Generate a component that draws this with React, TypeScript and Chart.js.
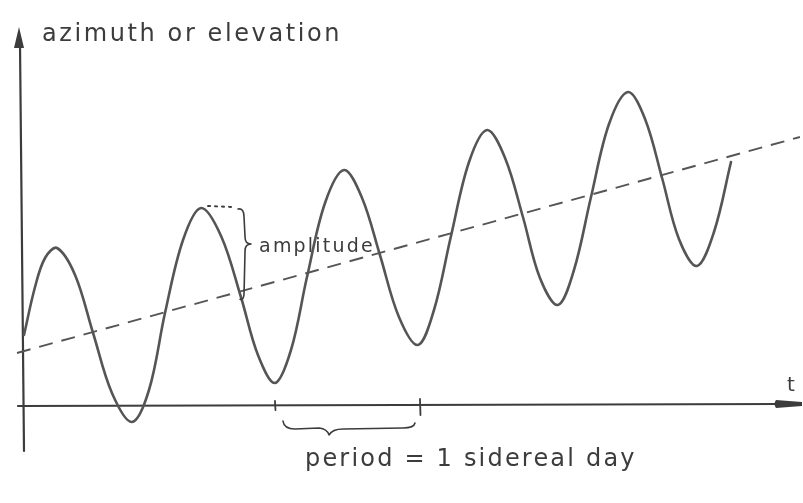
import { useEffect, useRef } from "react";
import { Chart, registerables } from "chart.js";

Chart.register(...registerables);

// Time in sidereal days, angle in degrees above the baseline.
const curveDays = [
  0.014, 0.091, 0.161, 0.245, 0.371, 0.497, 0.629, 0.769, 0.888, 1.0, 1.126, 1.252, 1.392, 1.531,
  1.65, 1.769, 1.881, 1.993, 2.119, 2.252, 2.378, 2.503, 2.636, 2.769, 2.881, 3.0, 3.126, 3.252,
  3.378, 3.503, 3.622, 3.748, 3.86, 3.979, 4.105, 4.238, 4.357, 4.476, 4.594, 4.72, 4.839, 4.958,
];
const curveAngle = [
  17.5, 29.5, 36.75, 39.25, 32.5, 18, 3, -4.25, 3.75, 23, 41.25, 49.25, 42.25, 27,
  12.5, 5.5, 13.75, 32, 50.5, 58.75, 51.75, 37.5, 22, 15, 23.75, 42.25, 60.75, 68.75,
  61.75, 47, 31.75, 25, 33.75, 52, 70.25, 78.25, 71.5, 56.75, 41.5, 34.75, 43.25, 60.75,
];

// Slow drift of the mean value.
const trendDays = [-0.035, 5.44];
const trendAngle = [13, 67];

// One full period marked on the time axis.
const periodTicks = [1.769, 2.783];

// Index of the crest used to show the amplitude.
const amplitudeCrest = 11;

const yLabel = "azimuth or elevation";
const xLabel = "t";
const amplitudeLabel = "amplitude";
const periodLabel = "period = 1 sidereal day";

const INK = "#3c3c3c";
const PEN = "#555555";
const FONT = '"DejaVu Sans", sans-serif';

const trendAt = (d: number) =>
  trendAngle[0] + ((trendAngle[1] - trendAngle[0]) * (d - trendDays[0])) / (trendDays[1] - trendDays[0]);

const sketchPlugin = {
  id: "sketch",
  beforeDatasetsDraw(chart: any) {
    const { ctx } = chart;
    const x = chart.scales.x;
    const y = chart.scales.y;
    const ax = x.getPixelForValue(0);
    const ay = y.getPixelForValue(0);
    const right = chart.chartArea.right;
    ctx.save();
    ctx.strokeStyle = INK;
    ctx.fillStyle = INK;
    ctx.lineWidth = 2.2;
    ctx.lineCap = "round";

    // vertical axis with arrow
    ctx.beginPath();
    ctx.moveTo(ax + 2, ay + 46);
    ctx.lineTo(ax - 2, 44);
    ctx.stroke();
    ctx.beginPath();
    ctx.moveTo(ax - 3, 27);
    ctx.lineTo(ax + 2, 48);
    ctx.lineTo(ax - 8, 48);
    ctx.closePath();
    ctx.fill();

    // horizontal axis with arrow
    ctx.beginPath();
    ctx.moveTo(ax - 4, ay + 1);
    ctx.lineTo(right - 20, ay - 1);
    ctx.stroke();
    ctx.beginPath();
    ctx.moveTo(right - 27, ay - 5);
    ctx.lineTo(right - 1, ay - 3);
    ctx.lineTo(right - 1, ay + 1);
    ctx.lineTo(right - 27, ay + 3);
    ctx.quadraticCurveTo(right - 30, ay - 1, right - 27, ay - 5);
    ctx.fill();

    // period ticks
    ctx.lineWidth = 1.8;
    const tk = [
      [-4, 5],
      [-6, 10],
    ];
    periodTicks.forEach((d, i) => {
      const px = x.getPixelForValue(d);
      ctx.beginPath();
      ctx.moveTo(px, ay + tk[i][0]);
      ctx.lineTo(px + 0.5, ay + tk[i][1]);
      ctx.stroke();
    });
    ctx.restore();
  },
  afterDatasetsDraw(chart: any) {
    const { ctx } = chart;
    const x = chart.scales.x;
    const y = chart.scales.y;
    const ax = x.getPixelForValue(0);
    const ay = y.getPixelForValue(0);
    const right = chart.chartArea.right;
    ctx.save();
    ctx.strokeStyle = INK;
    ctx.fillStyle = INK;
    ctx.lineCap = "round";
    ctx.lineJoin = "round";

    // amplitude: dotted lead from the crest and a curly brace down to the mean line
    const cd = curveDays[amplitudeCrest];
    const cx = x.getPixelForValue(cd);
    const top = y.getPixelForValue(curveAngle[amplitudeCrest]);
    const bot = y.getPixelForValue(trendAt(cd));
    const bx = cx + 43;
    const mid = top + 36;
    ctx.lineWidth = 2;
    ctx.setLineDash([2, 5]);
    ctx.beginPath();
    ctx.moveTo(cx + 7, top - 2);
    ctx.lineTo(bx - 12, top - 1);
    ctx.stroke();
    ctx.setLineDash([]);
    ctx.lineWidth = 1.6;
    ctx.beginPath();
    ctx.moveTo(bx - 6, top + 1);
    ctx.quadraticCurveTo(bx, top, bx, top + 9);
    ctx.lineTo(bx + 1, mid - 7);
    ctx.quadraticCurveTo(bx + 1, mid, bx + 7, mid);
    ctx.quadraticCurveTo(bx + 1, mid, bx + 1, mid + 7);
    ctx.lineTo(bx, bot - 9);
    ctx.quadraticCurveTo(bx, bot - 2, bx - 4, bot - 3);
    ctx.stroke();

    // period: curly brace under the axis between the ticks
    const l = x.getPixelForValue(periodTicks[0]) + 8;
    const r = x.getPixelForValue(periodTicks[1]) - 5;
    const by = ay + 24;
    const pk = l + (r - l) * 0.35;
    ctx.beginPath();
    ctx.moveTo(l, by - 8);
    ctx.quadraticCurveTo(l + 1, by, l + 12, by);
    ctx.lineTo(pk - 10, by - 1);
    ctx.quadraticCurveTo(pk - 2, by, pk, by + 6);
    ctx.quadraticCurveTo(pk + 3, by, pk + 14, by);
    ctx.lineTo(r - 12, by - 1);
    ctx.quadraticCurveTo(r - 1, by - 1, r, by - 6);
    ctx.stroke();

    // labels
    ctx.textBaseline = "alphabetic";
    ctx.textAlign = "left";
    ctx.font = `24px ${FONT}`;
    (ctx as any).letterSpacing = "2.6px";
    ctx.fillText(yLabel, ax + 20, 41);

    (ctx as any).letterSpacing = "2.2px";
    ctx.fillText(periodLabel, l + 22, ay + 61);

    ctx.font = `19px ${FONT}`;
    (ctx as any).letterSpacing = "2.2px";
    ctx.fillText(amplitudeLabel, bx + 15, top + 44);

    ctx.font = `20px ${FONT}`;
    (ctx as any).letterSpacing = "0px";
    ctx.fillText(xLabel, right - 16, ay - 14);
    ctx.restore();
  },
};

export default function App() {
  const ref = useRef<HTMLCanvasElement | null>(null);

  useEffect(() => {
    document.body.style.margin = "0";
    const canvas = ref.current;
    if (!canvas) return;
    const chart = new Chart(canvas, {
      type: "line",
      data: {
        datasets: [
          {
            data: curveDays.map((d, i) => ({ x: d, y: curveAngle[i] })),
            borderColor: PEN,
            borderWidth: 2.6,
            pointRadius: 0,
            tension: 0.35,
            borderCapStyle: "round",
            borderJoinStyle: "round",
            fill: false,
          },
          {
            data: trendDays.map((d, i) => ({ x: d, y: trendAngle[i] })),
            borderColor: PEN,
            borderWidth: 1.9,
            borderDash: [14, 9],
            pointRadius: 0,
            fill: false,
          },
        ],
      },
      options: {
        responsive: false,
        animation: false,
        devicePixelRatio: 1,
        layout: { padding: 0 },
        plugins: {
          legend: { display: false },
          tooltip: { enabled: false },
          title: { display: false },
        },
        scales: {
          x: { type: "linear", min: -22 / 143, max: 781 / 143, display: false },
          y: { type: "linear", min: -24.5, max: 101.25, display: false },
        },
      },
      plugins: [sketchPlugin],
    });
    return () => chart.destroy();
  }, []);

  return (
    <div style={{ width: 803, height: 503, background: "#ffffff" }}>
      <canvas ref={ref} width={803} height={503} />
    </div>
  );
}
